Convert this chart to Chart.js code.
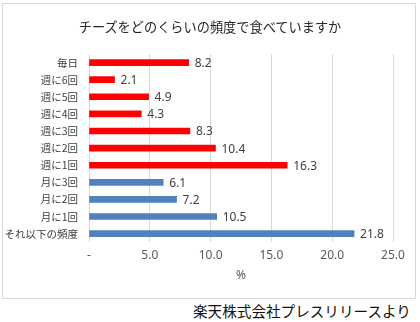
<!DOCTYPE html>
<html>
<head>
<meta charset="utf-8">
<script src="https://cdn.jsdelivr.net/npm/chart.js@4"></script>
<style>
  html, body { margin: 0; padding: 0; background: #fff; }
  #wrap { position: relative; width: 420px; height: 322px; }
  #box { position: absolute; left: 2px; top: 3px; width: 412px; height: 294px; border: 1px solid #d9d9d9; }
  #chartHolder { position: absolute; left: 0; top: 0; width: 420px; height: 300px; }
  #title { position: absolute; left: 0; top: 17px; width: 420px; text-align: center; font: 13.2px 'Noto Sans CJK JP'; color: #262626; line-height: 20px; }
  #source { position: absolute; left: 193px; top: 301px; font: 14.6px 'Noto Sans CJK JP'; color: #111; white-space: nowrap; line-height: 20px; }
</style>
</head>
<body>
<div id="wrap">
  <div id="box"></div>
  <div id="chartHolder"><canvas id="c" width="420" height="300"></canvas></div>
  <div id="title">チーズをどのくらいの頻度で食べていますか</div>
  <div id="source">楽天株式会社プレスリリースより</div>
</div>
<script>
const categories = ['毎日', '週に6回', '週に5回', '週に4回', '週に3回', '週に2回', '週に1回', '月に3回', '月に2回', '月に1回', 'それ以下の頻度'];
const values = [8.2, 2.1, 4.9, 4.3, 8.3, 10.4, 16.3, 6.1, 7.2, 10.5, 21.8];
const barColors = ['#ff0000', '#ff0000', '#ff0000', '#ff0000', '#ff0000', '#ff0000', '#ff0000', '#4f81bd', '#4f81bd', '#4f81bd', '#4f81bd'];
const xTicks = [0, 5, 10, 15, 20, 25];

const numFont = "'Noto Sans', 'Noto Sans CJK JP', sans-serif";

// value labels at the end of each bar
const valueLabels = {
  id: 'valueLabels',
  afterDatasetsDraw(chart) {
    const ctx = chart.ctx;
    const meta = chart.getDatasetMeta(0);
    ctx.save();
    ctx.font = '12px ' + numFont;
    ctx.fillStyle = '#404040';
    ctx.textAlign = 'left';
    ctx.textBaseline = 'middle';
    meta.data.forEach((bar, i) => {
      ctx.fillText(values[i].toFixed(1), bar.x + 6, bar.y + 1);
    });
    ctx.restore();
  }
};

new Chart(document.getElementById('c'), {
  type: 'bar',
  data: {
    labels: categories,
    datasets: [{
      data: values,
      backgroundColor: barColors,
      barThickness: 6
    }]
  },
  options: {
    indexAxis: 'y',
    responsive: false,
    animation: false,
    layout: { padding: { left: 0, right: 27, top: 54, bottom: 17 } },
    plugins: {
      legend: { display: false },
      tooltip: { enabled: false }
    },
    scales: {
      x: {
        min: 0,
        max: 25,
        afterBuildTicks: (scale) => { scale.ticks = xTicks.map(v => ({ value: v })); },
        ticks: {
          color: '#595959',
          font: { family: numFont, size: 12 },
          padding: 6,
          callback: (v) => v === 0 ? '-' : v.toFixed(1)
        },
        grid: { color: '#d9d9d9', drawTicks: false },
        border: { display: false },
        title: {
          display: true,
          text: '%',
          color: '#595959',
          font: { family: numFont, size: 12 },
          padding: { top: 0, bottom: 0 }
        }
      },
      y: {
        afterFit: (scale) => { scale.width = 89; },
        ticks: {
          color: '#404040',
          font: { family: "'Noto Sans CJK JP'", size: 10.5 },
          padding: 11
        },
        grid: { display: false, drawTicks: false },
        border: { display: false }
      }
    }
  },
  plugins: [valueLabels]
});
</script>
</body>
</html>
